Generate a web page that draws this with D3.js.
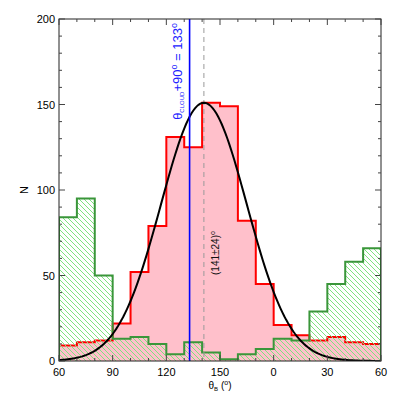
<!doctype html>
<html>
<head>
<style>
    body { margin: 0; background: #fff; }
    text { font-family: "Liberation Sans", Arial, sans-serif; }
</style>
<script src="https://d3js.org/d3.v7.min.js"></script>
</head>
<body>
<svg width="399" height="399"></svg>
<script>
    // bin starts (degrees, 10 deg wide), last edge is 240
    var binStarts = [60, 70, 80, 90, 100, 110, 120, 130, 140, 150, 160, 170, 180, 190, 200, 210, 220, 230];
    var lastEdge = 240;
    var redCounts = [9, 11, 12, 22, 52, 79, 131, 125, 151, 149, 82, 45, 21, 15, 12, 14, 11, 10];
    var greenCounts = [84, 95, 50, 13, 14, 10, 4, 11, 5, 1, 4, 7, 13, 12, 29, 45, 58, 66];
    var xTicks = [60, 90, 120, 150, 180, 210, 240];
    var xTickLabels = ["60", "90", "120", "150", "0", "30", "60"];
    var yTicks = [0, 50, 100, 150, 200];
    // gaussian fit (141 +- 24), peak height
    var fitMean = 141, fitSigma = 24, fitPeak = 151;
    var cloudAngle = 133;

    var svg = d3.select("svg"),
        pLeft = 59, pRight = 381, pTop = 19, pBottom = 361;

    var x = d3.scaleLinear().domain([60, 240]).range([pLeft, pRight]),
        y = d3.scaleLinear().domain([0, 200]).range([pBottom, pTop]);

    var defs = svg.append("defs");
    var pat = defs.append("pattern")
        .attr("id", "hatch")
        .attr("patternUnits", "userSpaceOnUse")
        .attr("width", 5).attr("height", 5);
    pat.append("path")
        .attr("d", "M0,0 L5,5 M-1,4 L1,6 M4,-1 L6,1")
        .attr("stroke", "#7fe37f").attr("stroke-width", 1);
    defs.append("clipPath").attr("id", "plot")
        .append("rect").attr("x", pLeft).attr("y", pTop)
        .attr("width", pRight - pLeft).attr("height", pBottom - pTop);

    function steps(counts) {
        var pts = binStarts.map(function(b, i) { return [b, counts[i]]; });
        pts.push([lastEdge, counts[counts.length - 1]]);
        return pts;
    }

    var area = d3.area()
        .x(function(d) { return x(d[0]); })
        .y0(y(0))
        .y1(function(d) { return y(d[1]); })
        .curve(d3.curveStepAfter);

    function outline(counts) {
        var pts = steps(counts);
        var p = d3.path();
        p.moveTo(x(60), y(0));
        pts.forEach(function(d, i) {
            if (i > 0) p.lineTo(x(d[0]), y(pts[i - 1][1]));
            p.lineTo(x(d[0]), y(d[1]));
        });
        p.lineTo(x(lastEdge), y(0));
        return p.toString();
    }

    var g = svg.append("g").attr("clip-path", "url(#plot)");

    // red histogram
    g.append("path").attr("d", area(steps(redCounts))).attr("fill", "#ffc0cb");
    g.append("path").attr("d", outline(redCounts))
        .attr("fill", "none").attr("stroke", "#ff0000").attr("stroke-width", 2);

    // green histogram
    g.append("path").attr("d", area(steps(greenCounts))).attr("fill", "url(#hatch)");
    g.append("path").attr("d", outline(greenCounts))
        .attr("fill", "none").attr("stroke", "#3a963a").attr("stroke-width", 2);

    // dashed mean line
    g.append("line")
        .attr("x1", x(fitMean)).attr("x2", x(fitMean))
        .attr("y1", pTop).attr("y2", pBottom)
        .attr("stroke", "#999").attr("stroke-width", 1)
        .attr("stroke-dasharray", "5,4");

    // gaussian fit
    var fitX = d3.range(60, 240.5, 1);
    var line = d3.line()
        .x(function(d) { return x(d); })
        .y(function(d) { return y(fitPeak * Math.exp(-Math.pow(d - fitMean, 2) / (2 * fitSigma * fitSigma))); });
    g.append("path").attr("d", line(fitX))
        .attr("fill", "none").attr("stroke", "#000").attr("stroke-width", 2);

    // cloud angle line
    g.append("line")
        .attr("x1", x(cloudAngle)).attr("x2", x(cloudAngle))
        .attr("y1", pTop).attr("y2", pBottom)
        .attr("stroke", "#0000ff").attr("stroke-width", 1.6);

    // frame
    svg.append("rect")
        .attr("x", pLeft).attr("y", pTop)
        .attr("width", pRight - pLeft).attr("height", pBottom - pTop)
        .attr("fill", "none").attr("stroke", "#222").attr("stroke-width", 1);

    // ticks on all four sides, pointing in
    var ax = svg.append("g").attr("stroke", "#444").attr("stroke-width", 1);
    d3.range(60, 241, 10).forEach(function(v) {
        var len = (xTicks.indexOf(v) >= 0) ? 6 : 3;
        ax.append("line").attr("x1", x(v)).attr("x2", x(v)).attr("y1", pBottom).attr("y2", pBottom - len);
        ax.append("line").attr("x1", x(v)).attr("x2", x(v)).attr("y1", pTop).attr("y2", pTop + len);
    });
    d3.range(0, 201, 10).forEach(function(v) {
        var len = (yTicks.indexOf(v) >= 0) ? 6 : 3;
        ax.append("line").attr("x1", pLeft).attr("x2", pLeft + len).attr("y1", y(v)).attr("y2", y(v));
        ax.append("line").attr("x1", pRight).attr("x2", pRight - len).attr("y1", y(v)).attr("y2", y(v));
    });

    // tick labels
    svg.selectAll(".xl").data(xTicks).enter().append("text")
        .attr("x", function(d) { return x(d); })
        .attr("y", 376)
        .attr("text-anchor", "middle")
        .attr("font-size", "11px")
        .text(function(d, i) { return xTickLabels[i]; });
    svg.selectAll(".yl").data(yTicks).enter().append("text")
        .attr("x", 55)
        .attr("y", function(d) { return y(d) + 4; })
        .attr("text-anchor", "end")
        .attr("font-size", "11px")
        .text(function(d) { return d; });

    // axis titles
    svg.append("text")
        .attr("transform", "translate(28,190) rotate(-90)")
        .attr("text-anchor", "middle")
        .attr("font-size", "11px")
        .text("N");
    var xt = svg.append("text")
        .attr("x", 220).attr("y", 389)
        .attr("text-anchor", "middle")
        .attr("font-size", "10px");
    xt.append("tspan").text("θ");
    xt.append("tspan").attr("font-size", "6px").attr("dy", 2).text("B");
    xt.append("tspan").attr("dy", -2).text(" (");
    xt.append("tspan").attr("font-size", "7px").attr("dy", -4).text("o");
    xt.append("tspan").attr("dy", 4).text(")");

    // annotations
    var bt = svg.append("text")
        .attr("transform", "translate(182,23) rotate(-90)")
        .attr("text-anchor", "end")
        .attr("font-size", "13px")
        .attr("fill", "#2020ff");
    bt.append("tspan").text("θ");
    bt.append("tspan").attr("font-size", "6px").attr("dy", 2).text("CLOUD");
    bt.append("tspan").attr("dy", -2).text("+90");
    bt.append("tspan").attr("font-size", "9px").attr("dy", -5).text("o");
    bt.append("tspan").attr("dy", 5).text(" = " + cloudAngle);
    bt.append("tspan").attr("font-size", "9px").attr("dy", -5).text("o");

    var ft = svg.append("text")
        .attr("transform", "translate(219,275) rotate(-90)")
        .attr("text-anchor", "start")
        .attr("font-size", "10px")
        .attr("fill", "#111");
    ft.append("tspan").text("(" + fitMean + "±" + fitSigma + ")");
    ft.append("tspan").attr("font-size", "7px").attr("dy", -4).text("o");
</script>
</body>
</html>
